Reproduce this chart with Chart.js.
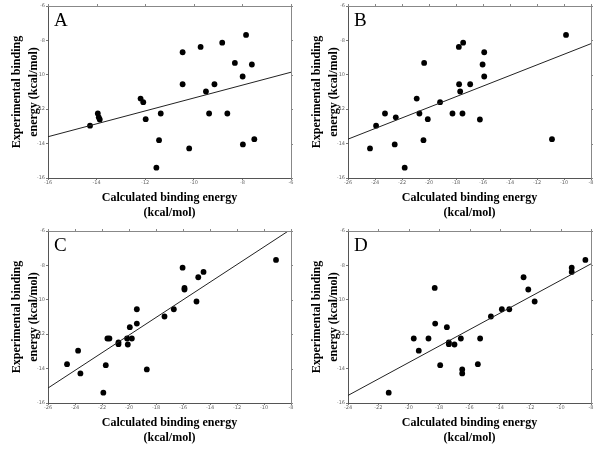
<!DOCTYPE html>
<html>
<head>
<meta charset="utf-8">
<script src="https://cdn.jsdelivr.net/npm/chart.js@4/dist/chart.umd.min.js"></script>
<style>
  html, body { margin: 0; padding: 0; background: #fff; }
  #wrap { position: relative; width: 600px; height: 450px; }
  canvas { position: absolute; }
</style>
</head>
<body>
<div id="wrap">
  <canvas id="cA" width="300" height="225" style="left:0;top:0"></canvas>
  <canvas id="cB" width="300" height="225" style="left:300px;top:0"></canvas>
  <canvas id="cC" width="300" height="225" style="left:0;top:225px"></canvas>
  <canvas id="cD" width="300" height="225" style="left:300px;top:225px"></canvas>
</div>
<script>
// Experimental binding energies (kcal/mol), same compounds in every panel
const experimental = [-7.68,-8.13,-8.38,-8.69,-9.31,-9.40,-10.10,-10.55,-10.55,-10.97,-11.38,-11.59,-12.25,-12.25,-12.25,-12.25,-12.47,-12.58,-12.60,-12.96,-13.80,-13.74,-14.05,-14.28,-15.40];

// Calculated binding energies per panel
const calcA = [-7.85,-8.83,-9.72,-10.46,-8.31,-7.61,-7.99,-10.46,-9.15,-9.50,-12.19,-12.08,-13.95,-11.36,-9.37,-8.62,-13.91,-11.98,-13.87,-14.27,-11.43,-7.51,-7.98,-10.19,-11.54];
const calcB = [-9.85,-17.47,-17.79,-15.91,-20.36,-16.03,-15.91,-17.77,-16.95,-17.69,-20.91,-19.18,-23.26,-20.71,-18.26,-17.52,-22.46,-20.09,-16.23,-23.92,-20.41,-10.89,-22.54,-24.37,-21.80];
const calcC = [-9.11,-16.03,-14.48,-14.87,-15.89,-15.89,-15.00,-19.42,-16.68,-17.37,-19.42,-19.94,-21.60,-21.45,-20.14,-19.79,-20.78,-20.78,-20.09,-23.77,-21.72,-24.59,-18.68,-23.60,-21.90];
const calcD = [-8.37,-9.27,-9.27,-12.44,-18.29,-12.13,-11.71,-13.87,-13.38,-14.59,-18.26,-17.49,-19.67,-18.70,-16.57,-15.30,-17.36,-17.36,-16.99,-19.34,-17.93,-15.45,-16.48,-16.48,-21.32];

// Regression line endpoints
const fitAx = [-16, -6],   fitAy = [-13.60, -9.85];
const fitBx = [-26, -8],   fitBy = [-13.74, -8.19];
const fitCx = [-26, -8.2], fitCy = [-15.13, -6.00];
const fitDx = [-24, -8],   fitDy = [-15.56, -7.91];

// Axis ranges
const xRangeA = [-16, -6];
const xRangeB = [-26, -8];
const xRangeC = [-26, -8];
const xRangeD = [-24, -8];
const yRange = [-16, -6];

const panelLabels = ['A', 'B', 'C', 'D'];
const yTitle = ['Experimental binding', 'energy (kcal/mol)'];
const xTitle = ['Calculated binding energy', '(kcal/mol)'];

const serif = "'Liberation Serif', 'Times New Roman', serif";

const boxPlugin = {
  id: 'box',
  afterDraw(chart, args, opts) {
    const {ctx, chartArea: a, scales} = chart;
    ctx.save();
    ctx.lineWidth = 1;
    ctx.strokeStyle = '#888';
    ctx.beginPath();
    ctx.moveTo(a.left, a.top + 0.5); ctx.lineTo(a.right + 0.5, a.top + 0.5);
    ctx.lineTo(a.right + 0.5, a.bottom);
    ctx.stroke();
    // outward ticks on top and right
    ctx.beginPath();
    scales.x.ticks.forEach(t => {
      const px = Math.round(scales.x.getPixelForValue(t.value)) + 0.5;
      ctx.moveTo(px, a.top); ctx.lineTo(px, a.top - 2);
    });
    scales.y.ticks.forEach(t => {
      const py = Math.round(scales.y.getPixelForValue(t.value)) + 0.5;
      ctx.moveTo(a.right, py); ctx.lineTo(a.right + 2, py);
    });
    ctx.stroke();
    // panel letter
    ctx.fillStyle = '#000';
    ctx.font = "19px " + serif;
    ctx.textBaseline = 'alphabetic';
    ctx.textAlign = 'left';
    ctx.fillText(opts.label, a.left + 6, a.top + 20);
    ctx.restore();
  }
};

function makeChart(id, calc, fitx, fity, xr, label) {
  const pts = calc.map((x, i) => ({x: x, y: experimental[i]}));
  const line = fitx.map((x, i) => ({x: x, y: fity[i]}));
  new Chart(document.getElementById(id), {
    type: 'scatter',
    data: {
      datasets: [
        { type: 'line', data: line, borderColor: '#222', borderWidth: 1, pointRadius: 0, fill: false, tension: 0 },
        { data: pts, backgroundColor: '#000', borderColor: '#000', pointRadius: 2.9, pointBorderWidth: 0 }
      ]
    },
    options: {
      responsive: false,
      animation: false,
      devicePixelRatio: 1,
      layout: { padding: { left: 0, right: 9, top: 6, bottom: 0 } },
      plugins: { legend: { display: false }, tooltip: { enabled: false }, box: { label: label } },
      scales: {
        x: {
          type: 'linear', min: xr[0], max: xr[1],
          afterFit: s => { s.height = 47; },
          ticks: { stepSize: 2, autoSkip: false, maxRotation: 0, padding: 0, color: '#666', font: { size: 5, family: 'DejaVu Sans' } },
          grid: { display: true, drawOnChartArea: false, tickLength: 2, color: '#777' },
          border: { display: true, color: '#555' },
          title: { display: true, text: xTitle, color: '#000', padding: { top: 0, bottom: 4 },
                   font: { family: serif, size: 12, weight: 'bold', lineHeight: 1.3 } }
        },
        y: {
          type: 'linear', min: yRange[0], max: yRange[1],
          afterFit: s => { s.width = 48; },
          ticks: { stepSize: 2, autoSkip: false, padding: 1, color: '#666', font: { size: 5, family: 'DejaVu Sans' } },
          grid: { display: true, drawOnChartArea: false, tickLength: 2, color: '#777' },
          border: { display: true, color: '#555' },
          title: { display: true, text: yTitle, color: '#000', padding: { top: 8, bottom: 0 },
                   font: { family: serif, size: 12, weight: 'bold', lineHeight: 1.45 } }
        }
      }
    },
    plugins: [boxPlugin]
  });
}

makeChart('cA', calcA, fitAx, fitAy, xRangeA, panelLabels[0]);
makeChart('cB', calcB, fitBx, fitBy, xRangeB, panelLabels[1]);
makeChart('cC', calcC, fitCx, fitCy, xRangeC, panelLabels[2]);
makeChart('cD', calcD, fitDx, fitDy, xRangeD, panelLabels[3]);
</script>
</body>
</html>
